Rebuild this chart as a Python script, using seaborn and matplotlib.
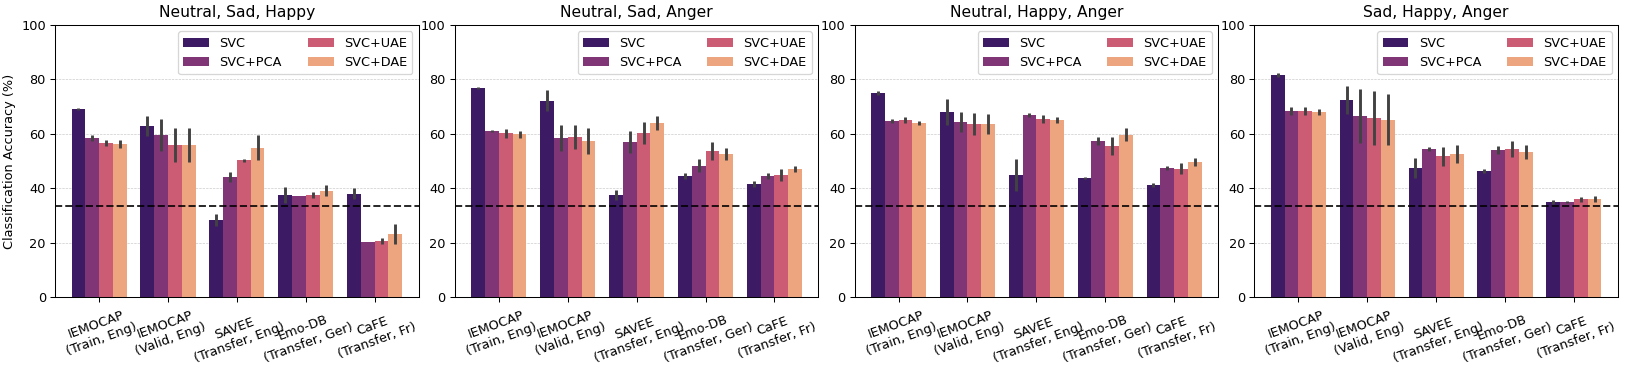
import numpy as np
import matplotlib
matplotlib.use("Agg")
import matplotlib.pyplot as plt
import seaborn as sns
import pandas as pd

datasets = ["IEMOCAP\n(Train, Eng)", "IEMOCAP\n(Valid, Eng)", "SAVEE\n(Transfer, Eng)",
            "Emo-DB\n(Transfer, Ger)", "CaFE\n(Transfer, Fr)"]
models = ["SVC", "SVC+PCA", "SVC+UAE", "SVC+DAE"]
titles = ["Neutral, Sad, Happy", "Neutral, Sad, Anger", "Neutral, Happy, Anger", "Sad, Happy, Anger"]

# mean accuracy, one row per model, one column per dataset
nsh_mean = [[69.1, 62.9, 28.3, 37.5, 37.9],
            [58.5, 59.6, 44.1, 37.1, 20.1],
            [56.6, 55.9, 50.2, 37.5, 20.6],
            [56.3, 55.9, 54.9, 39.0, 23.2]]
nsh_err = [[0.5, 3.6, 2.3, 3.0, 2.0],
           [1.2, 6.0, 1.7, 0.0, 0.0],
           [1.2, 6.2, 0.5, 1.0, 1.0],
           [1.5, 6.2, 4.6, 2.0, 3.8]]

nsa_mean = [[76.8, 72.2, 37.5, 44.5, 41.5],
            [61.0, 58.5, 57.0, 48.2, 44.5],
            [60.2, 58.8, 60.2, 53.7, 44.9],
            [59.9, 57.4, 64.0, 52.6, 47.1]]
nsa_err = [[0.5, 3.9, 1.8, 1.0, 1.1],
           [0.5, 4.8, 4.0, 2.4, 1.2],
           [1.7, 4.5, 4.0, 3.2, 2.2],
           [1.3, 4.7, 2.6, 2.3, 1.2]]

nha_mean = [[75.0, 68.0, 44.9, 43.8, 41.2],
            [64.7, 64.3, 66.9, 57.4, 47.4],
            [65.1, 63.6, 65.4, 55.5, 47.1],
            [64.0, 63.6, 65.1, 59.6, 49.6]]
nha_err = [[0.7, 4.9, 6.0, 0.5, 0.6],
           [0.7, 3.6, 0.8, 1.4, 0.8],
           [1.0, 3.9, 1.6, 3.4, 2.0],
           [0.8, 3.7, 1.0, 2.4, 1.6]]

sha_mean = [[81.6, 72.4, 47.4, 46.3, 34.9],
            [68.4, 66.5, 54.4, 54.0, 34.9],
            [68.4, 65.8, 51.8, 54.4, 36.0],
            [68.0, 65.1, 52.6, 53.3, 36.0]]
sha_err = [[0.6, 5.3, 3.8, 0.8, 0.6],
           [1.4, 10.0, 0.8, 1.5, 0.5],
           [1.4, 9.8, 3.5, 3.1, 0.9],
           [1.2, 9.4, 3.2, 2.6, 1.0]]

chance = 100 / 3

panels = [(nsh_mean, nsh_err), (nsa_mean, nsa_err), (nha_mean, nha_err), (sha_mean, sha_err)]

fig, axes = plt.subplots(1, 4, figsize=(1632 / 93, 370 / 93), dpi=93)
fig.subplots_adjust(left=55 / 1632, right=1618 / 1632, top=1 - 25 / 370,
                    bottom=1 - 297 / 370, wspace=0.099)

for ax, title, (mean, err) in zip(axes, titles, panels):
    rows = []
    for m, model in enumerate(models):
        for d, ds in enumerate(datasets):
            rows.append({"dataset": ds, "model": model, "acc": mean[m][d]})
    df = pd.DataFrame(rows)
    sns.barplot(data=df, x="dataset", y="acc", hue="model", palette="magma",
                errorbar=None, ax=ax)
    # error bars at the bar centres
    bar_groups = list(ax.containers)
    for m, bars in enumerate(bar_groups):
        xs = [b.get_x() + b.get_width() / 2 for b in bars]
        ax.errorbar(xs, mean[m], yerr=err[m], fmt="none", ecolor=".26",
                    elinewidth=2.25, capsize=0, zorder=3)
    ax.axhline(chance, ls="--", color="k", lw=1.5, alpha=0.85, zorder=4)
    ax.set_ylim(0, 100)
    ax.set_yticks([0, 20, 40, 60, 80, 100])
    ax.yaxis.grid(True, ls="--", lw=0.5, color="#c8c8c8")
    ax.set_axisbelow(True)
    ax.set_title(title)
    ax.set_xlabel("")
    ax.set_ylabel("")
    ax.tick_params(axis="x", labelrotation=20)
    ax.legend(loc="upper right", ncol=2)

axes[0].set_ylabel("Classification Accuracy (%)")

fig.savefig("out.png", dpi=93)
